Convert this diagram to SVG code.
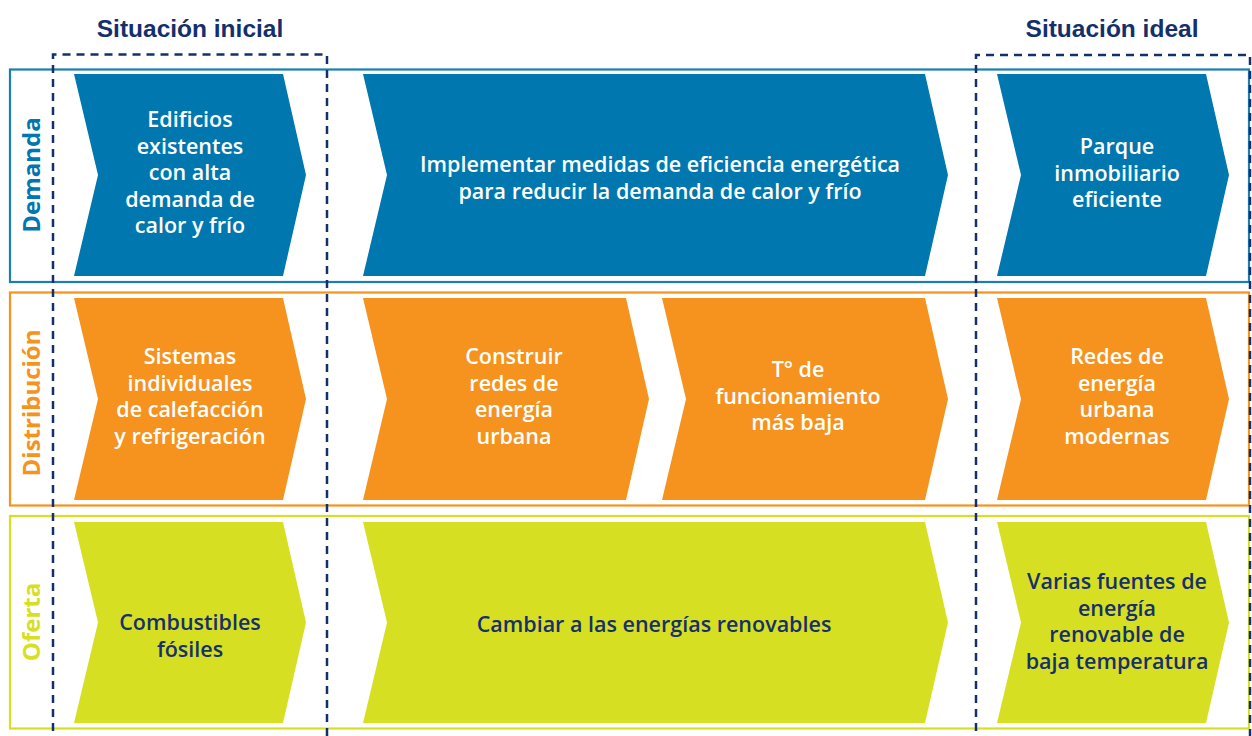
<svg xmlns="http://www.w3.org/2000/svg" width="1252" height="736" viewBox="0 0 1252 736">
<style>
.hdr{font-family:"Liberation Sans",Arial,sans-serif;font-weight:700;font-size:24.5px;fill:#13306d;text-anchor:middle}
.lbl{font-family:"Open Sans","Liberation Sans",sans-serif;font-weight:700;font-size:24px;text-anchor:middle}
.t{font-family:"Open Sans","Liberation Sans",sans-serif;font-weight:600;font-size:21.5px;text-anchor:middle}
.w{fill:#ffffff}
.n{fill:#16306b}
.blue{fill:#0077ae}
.orange{fill:#f6921e}
.lime{fill:#d7df23}
.frame{fill:none;stroke-width:2.2}
.dash{fill:none;stroke:#14306c;stroke-width:2.5;stroke-dasharray:8 6}
</style>
<rect width="1252" height="736" fill="#ffffff"/>
<g id="frames">
<rect class="frame" x="10" y="69.5" width="1239" height="212.5" stroke="#1a7db4"/>
<rect class="frame" x="10" y="292.5" width="1239" height="213" stroke="#f6921e"/>
<rect class="frame" x="10" y="516" width="1239" height="212.5" stroke="#d7df23"/>
</g>
<g id="row-labels">
<text class="lbl" transform="translate(40,175) rotate(-90)" fill="#0077ae">Demanda</text>
<text class="lbl" transform="translate(40,403) rotate(-90)" fill="#f6921e">Distribución</text>
<text class="lbl" transform="translate(40,622) rotate(-90)" fill="#d7df23">Oferta</text>
</g>
<g id="n-dem-ini">
<polygon class="blue" points="74,74 283,74 306,175 283,276 74,276 98,175"/>
<text class="t w" x="190"><tspan x="190" y="127">Edificios</tspan><tspan x="190" y="153.6">existentes</tspan><tspan x="190" y="180.2">con alta</tspan><tspan x="190" y="206.8">demanda de</tspan><tspan x="190" y="233.4">calor y frío</tspan></text>
</g>
<g id="n-dem-mid">
<polygon class="blue" points="363,74 925,74 948,175 925,276 363,276 387,175"/>
<text class="t w"><tspan x="660" y="171.5">Implementar medidas de eficiencia energética</tspan><tspan x="660" y="198.5">para reducir la demanda de calor y frío</tspan></text>
</g>
<g id="n-dem-fin">
<polygon class="blue" points="997,74 1206,74 1229,175 1206,276 997,276 1021,175"/>
<text class="t w"><tspan x="1117" y="154">Parque</tspan><tspan x="1117" y="180.6">inmobiliario</tspan><tspan x="1117" y="207.2">eficiente</tspan></text>
</g>
<g id="n-dis-ini">
<polygon class="orange" points="74,298 283,298 306,399 283,500 74,500 98,399"/>
<text class="t w"><tspan x="190" y="364">Sistemas</tspan><tspan x="190" y="390.6">individuales</tspan><tspan x="190" y="417.2">de calefacción</tspan><tspan x="190" y="443.8">y refrigeración</tspan></text>
</g>
<g id="n-dis-mid1">
<polygon class="orange" points="363,298 626,298 649,399 626,500 363,500 387,399"/>
<text class="t w"><tspan x="514" y="364">Construir</tspan><tspan x="514" y="390.6">redes de</tspan><tspan x="514" y="417.2">energía</tspan><tspan x="514" y="443.8">urbana</tspan></text>
</g>
<g id="n-dis-mid2">
<polygon class="orange" points="662,298 925,298 948,399 925,500 662,500 686,399"/>
<text class="t w"><tspan x="798" y="377">T° de</tspan><tspan x="798" y="403.6">funcionamiento</tspan><tspan x="798" y="430.2">más baja</tspan></text>
</g>
<g id="n-dis-fin">
<polygon class="orange" points="997,298 1206,298 1229,399 1206,500 997,500 1021,399"/>
<text class="t w"><tspan x="1117" y="364">Redes de</tspan><tspan x="1117" y="390.6">energía</tspan><tspan x="1117" y="417.2">urbana</tspan><tspan x="1117" y="443.8">modernas</tspan></text>
</g>
<g id="n-of-ini">
<polygon class="lime" points="74,522 283,522 306,622.5 283,723 74,723 98,622.5"/>
<text class="t n"><tspan x="190" y="630">Combustibles</tspan><tspan x="190" y="656.6">fósiles</tspan></text>
</g>
<g id="n-of-mid">
<polygon class="lime" points="363,522 925,522 948,622.5 925,723 363,723 387,622.5"/>
<text class="t n"><tspan x="654" y="632">Cambiar a las energías renovables</tspan></text>
</g>
<g id="n-of-fin">
<polygon class="lime" points="997,522 1206,522 1229,622.5 1206,723 997,723 1021,622.5"/>
<text class="t n"><tspan x="1117" y="589">Varias fuentes de</tspan><tspan x="1117" y="615.6">energía</tspan><tspan x="1117" y="642.2">renovable de</tspan><tspan x="1117" y="668.8">baja temperatura</tspan></text>
</g>
<g id="situations">
<path class="dash" d="M53,745 V54.5 H327 V745"/>
<path class="dash" d="M976,745 V55 H1250 V745"/>
<text class="hdr" x="190" y="37">Situación inicial</text>
<text class="hdr" x="1112" y="37">Situación ideal</text>
</g>
</svg>
